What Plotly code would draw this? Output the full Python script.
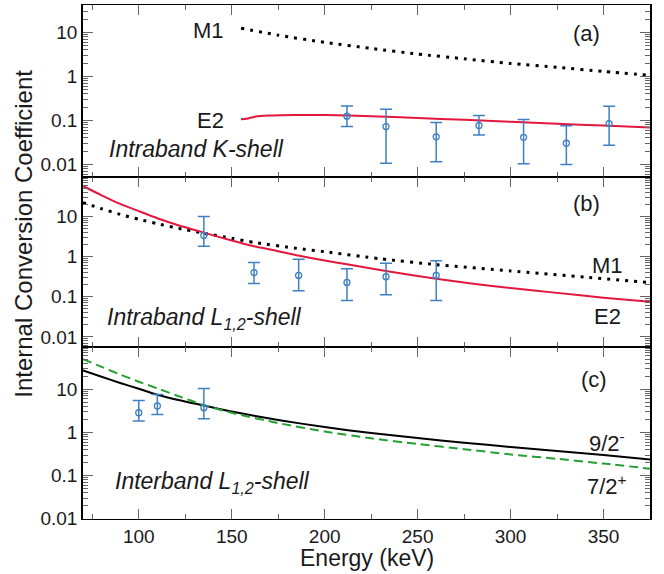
import plotly.graph_objects as go
from plotly.subplots import make_subplots

# ---------------- data ----------------
# (a) intraband K-shell
k_energy = [212, 233, 260, 283, 307, 330, 353]
k_icc = [0.124, 0.072, 0.042, 0.076, 0.041, 0.030, 0.084]
k_icc_hi = [0.212, 0.179, 0.089, 0.128, 0.104, 0.075, 0.209]
k_icc_lo = [0.072, 0.0106, 0.0114, 0.046, 0.0102, 0.0099, 0.027]

k_m1_energy = [155, 175, 200, 225, 250, 275, 300, 325, 350, 375]
k_m1_icc = [12.4, 8.6, 5.9, 4.3, 3.2, 2.5, 1.95, 1.6, 1.28, 1.05]
k_e2_energy = [155, 158, 163, 170, 185, 200, 225, 250, 275, 300, 325, 350, 375]
k_e2_icc = [0.105, 0.108, 0.122, 0.128, 0.132, 0.132, 0.124, 0.113, 0.102, 0.092, 0.083, 0.076, 0.068]

# (b) intraband L1,2-shell
l_energy = [135, 162, 186, 212, 233, 260]
l_icc = [3.35, 0.40, 0.34, 0.228, 0.316, 0.34]
l_icc_hi = [10.0, 0.71, 0.86, 0.50, 0.68, 0.79]
l_icc_lo = [1.81, 0.215, 0.141, 0.081, 0.112, 0.081]

l_e2_energy = [70, 80, 90, 100, 110, 120, 135, 150, 162, 175, 185, 200, 212, 233, 260, 280, 300, 325, 350, 375]
l_e2_icc = [57, 33.5, 20.5, 13.5, 9.0, 6.3, 3.95, 2.5, 1.8, 1.36, 1.08, 0.8, 0.64, 0.44, 0.28, 0.21, 0.165, 0.125, 0.095, 0.075]
l_m1_energy = [70, 80, 90, 100, 110, 120, 135, 150, 162, 185, 200, 230, 260, 300, 340, 375]
l_m1_icc = [22, 15.5, 11.2, 8.5, 6.6, 5.2, 3.8, 2.85, 2.25, 1.6, 1.32, 0.88, 0.63, 0.44, 0.31, 0.224]

# (c) interband L1,2-shell
i_energy = [100, 110, 135]
i_icc = [2.86, 4.1, 3.75]
i_icc_hi = [5.5, 7.6, 10.5]
i_icc_lo = [1.84, 2.6, 2.08]

i_92_energy = [70, 80, 90, 100, 110, 120, 135, 150, 175, 200, 225, 250, 275, 300, 325, 350, 375]
i_92_icc = [27.5, 19.5, 14.0, 10.3, 7.5, 5.8, 4.2, 3.05, 1.95, 1.33, 0.97, 0.74, 0.58, 0.46, 0.37, 0.30, 0.235]
i_72_energy = [70, 80, 90, 100, 110, 120, 135, 150, 175, 200, 225, 250, 275, 300, 325, 350, 375]
i_72_icc = [50, 33, 22, 15, 10.5, 7.3, 4.3, 2.85, 1.65, 1.05, 0.73, 0.54, 0.41, 0.31, 0.245, 0.19, 0.145]

# axis ticks
x_major = [100, 150, 200, 250, 300, 350]
x_minor = [75, 125, 175, 225, 275, 325, 375]
y_major = [0.01, 0.1, 1, 10]
y_major_text = ["0.01", "0.1", "1", "10"]
y_minor = [m * 10 ** e for e in range(-3, 2) for m in range(2, 10)]

# ---------------- styling ----------------
FONT = "Liberation Sans, Arial, Helvetica, sans-serif"
TXT = "#1a1a1a"
RED = "#E3173E"
BLUE = "#3F7FC4"
GREEN = "#24A033"
TICKC = "#666666"

fig = make_subplots(rows=3, cols=1, shared_xaxes=True, vertical_spacing=0,
                    row_heights=[172, 170, 172])


def points(x, y, hi, lo, row):
    fig.add_trace(go.Scatter(
        x=x, y=y, mode="markers",
        marker=dict(symbol="circle-open", size=6, color=BLUE, line=dict(width=1.3, color=BLUE)),
        error_y=dict(type="data", symmetric=False,
                     array=[h - v for h, v in zip(hi, y)],
                     arrayminus=[v - l for v, l in zip(y, lo)],
                     color=BLUE, thickness=1.5, width=6),
        showlegend=False), row=row, col=1)


def curve(x, y, row, color, width, dash="solid"):
    fig.add_trace(go.Scatter(x=x, y=y, mode="lines", line=dict(color=color, width=width, dash=dash, shape="spline", smoothing=0.6),
                             showlegend=False), row=row, col=1)


# (a)
curve(k_m1_energy, k_m1_icc, 1, "black", 3, "3px,6px")
curve(k_e2_energy, k_e2_icc, 1, RED, 2)
points(k_energy, k_icc, k_icc_hi, k_icc_lo, 1)
# (b)
curve(l_m1_energy, l_m1_icc, 2, "black", 3, "3px,6px")
curve(l_e2_energy, l_e2_icc, 2, RED, 2)
points(l_energy, l_icc, l_icc_hi, l_icc_lo, 2)
# (c)
curve(i_92_energy, i_92_icc, 3, "black", 2)
curve(i_72_energy, i_72_icc, 3, GREEN, 2, "9px,5px")
points(i_energy, i_icc, i_icc_hi, i_icc_lo, 3)

xcommon = dict(range=[70, 375], tickmode="array", tickvals=x_major, ticks="inside", ticklen=10,
               tickwidth=1, tickcolor=TICKC, showline=True, linecolor="black", linewidth=1,
               mirror="ticks", showgrid=False, zeroline=False,
               minor=dict(tickmode="array", tickvals=x_minor, ticks="inside", ticklen=5,
                          tickcolor=TICKC, tickwidth=1, showgrid=False),
               tickfont=dict(family=FONT, size=19, color=TXT))
for r in (1, 2, 3):
    fig.update_xaxes(xcommon, showticklabels=(r == 3), row=r, col=1)

yranges = {1: [-2.29, 1.62], 2: [-2.25, 1.98], 3: [-2.005, 1.98]}
for r, rng in yranges.items():
    fig.update_yaxes(type="log", range=rng, tickmode="array", tickvals=y_major, ticktext=y_major_text,
                     ticks="inside", ticklen=10, tickwidth=1, tickcolor=TICKC,
                     showline=True, linecolor="black", linewidth=1.5, mirror="ticks",
                     showgrid=False, zeroline=False,
                     minor=dict(tickmode="array", tickvals=y_minor, ticks="inside", ticklen=5,
                                tickcolor=TICKC, tickwidth=1, showgrid=False),
                     tickfont=dict(family=FONT, size=19, color=TXT),
                     row=r, col=1)

ann = []


def label(text, x, y, row, xanchor="center", size=22, italic=False, yanchor="middle"):
    ref = "" if row == 1 else str(row)
    ann.append(dict(text=text, x=x, y=y, xref="x" + ref, yref="y" + ref, showarrow=False,
                    xanchor=xanchor, yanchor=yanchor,
                    font=dict(family=FONT, size=size, color=TXT,
                              style="italic" if italic else "normal")))


label("M1", 147, 1.05, 1, xanchor="right")
label("E2", 147, -1.0, 1, xanchor="right")
label("(a)", 341, 0.98, 1)
label("Intraband K-shell", 83, -1.66, 1, xanchor="left", size=23, italic=True)

label("(b)", 341, 1.33, 2)
label("M1", 352, -0.21, 2)
label("E2", 352, -1.5, 2)
label("Intraband L<sub>1,2</sub>-shell", 82, -1.55, 2, xanchor="left", size=23, italic=True)

label("(c)", 345, 1.23, 3)
label("9/2<sup>-</sup>", 352, -0.22, 3)
label("7/2<sup>+</sup>", 352, -1.22, 3)
label("Interband L<sub>1,2</sub>-shell", 86, -1.15, 3, xanchor="left", size=23, italic=True)

ann.append(dict(text="Energy (keV)", x=0.5, y=-0.075, xref="paper", yref="paper", showarrow=False,
                xanchor="center", yanchor="middle", font=dict(family=FONT, size=23, color=TXT)))
ann.append(dict(text="Internal Conversion Coefficient", x=-0.104, y=0.555, xref="paper", yref="paper",
                showarrow=False, textangle=-90, xanchor="center", yanchor="middle",
                font=dict(family=FONT, size=24, color=TXT)))

fig.update_layout(width=664, height=574, margin=dict(l=83, r=14, t=5, b=55),
                  paper_bgcolor="white", plot_bgcolor="white", annotations=ann,
                  font=dict(family=FONT))

fig.write_html("out.html")
